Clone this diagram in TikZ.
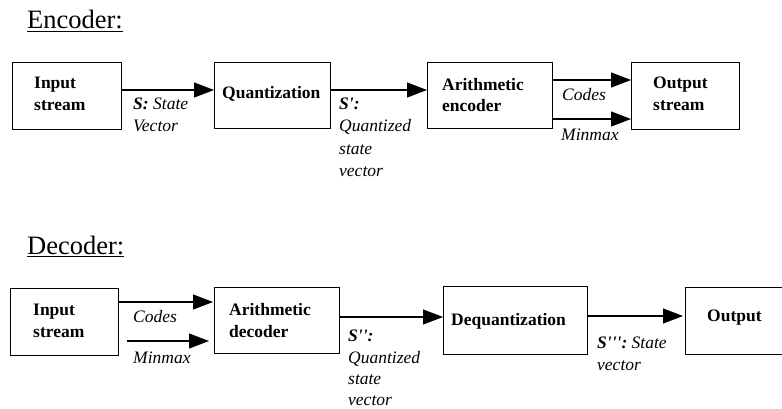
\documentclass[tikz,border=0pt]{standalone}
\usepackage{fontspec}
\setmainfont{Liberation Serif}
\usetikzlibrary{arrows.meta}
\begin{document}
\begin{tikzpicture}[x=1pt,y=-1pt,
  box/.style={draw, line width=1.2pt, inner sep=0pt, anchor=north west},
  bt/.style={font=\fontsize{17.5}{21}\selectfont\bfseries, anchor=base west, inner sep=0pt},
  lb/.style={font=\fontsize{17.5}{21}\selectfont\itshape, anchor=base west, inner sep=0pt},
  ttl/.style={font=\fontsize{26.5}{30}\selectfont, anchor=base west, inner sep=0pt},
  arr/.style={line width=1.2pt, -{Triangle[length=20pt,width=15pt]}}]
\useasboundingbox (0,0) rectangle (782,409);
% ---------- Encoder ----------
\node[ttl] (enc) at (27,29) {\underline{Encoder:}};
\node[box, minimum width=109pt, minimum height=67pt] (in1) at (12,62) {};
\node[box, minimum width=116pt, minimum height=66pt] (q) at (214,62) {};
\node[box, minimum width=125pt, minimum height=66pt] (ae) at (427,62) {};
\node[box, minimum width=108pt, minimum height=67pt] (os) at (631,62) {};
\node[bt] (in1a) at (34,89) {Input};
\node[bt] (in1b) at (34,111) {stream};
\node[bt] (qa) at (222,99) {Quantization};
\node[bt] (aea) at (442,91) {Arithmetic};
\node[bt] (aeb) at (442,112) {encoder};
\node[bt] (osa) at (653,89) {Output};
\node[bt] (osb) at (653,111) {stream};
\coordinate (e1) at (0,90);
\coordinate (e2) at (0,80);
\coordinate (e3) at (0,119);
\draw[arr] (in1.east |- e1) -- (q.west |- e1);
\draw[arr] (q.east |- e1) -- (ae.west |- e1);
\draw[arr] (ae.east |- e2) -- (os.west |- e2);
\draw[arr] (ae.east |- e3) -- (os.west |- e3);
\node[lb] (l1a) at (133,110) {\textbf{S:} State};
\node[lb] (l1b) at (133,132) {Vector};
\node[lb] (l2a) at (339,110) {\textbf{S\textquotesingle:}};
\node[lb] (l2b) at (339,132) {Quantized};
\node[lb] (l2c) at (339,154) {state};
\node[lb] (l2d) at (339,176) {vector};
\node[lb] (l3) at (562,101) {Codes};
\node[lb] (l4) at (561,141) {Minmax};
% ---------- Decoder ----------
\node[ttl] (dec) at (27,254) {\underline{Decoder:}};
\node[box, minimum width=108pt, minimum height=67pt] (in2) at (10,288) {};
\node[box, minimum width=125pt, minimum height=66pt] (ad) at (214,287) {};
\node[box, minimum width=144pt, minimum height=68pt] (dq) at (443,286) {};
\node[box, minimum width=120pt, minimum height=67pt] (out) at (685,287) {};
\node[bt] (in2a) at (33,315) {Input};
\node[bt] (in2b) at (33,337) {stream};
\node[bt] (ada) at (229,315) {Arithmetic};
\node[bt] (adb) at (229,337) {decoder};
\node[bt] (dqa) at (451,325) {Dequantization};
\node[bt] (outa) at (707,321) {Output};
\coordinate (d1) at (0,302);
\coordinate (m0) at (127,341);
\coordinate (d3) at (0,317);
\coordinate (d4) at (0,316);
\draw[arr] (in2.east |- d1) -- ([xshift=-1pt]ad.west |- d1);
\draw[arr] (m0) -- ([xshift=-5pt]ad.west |- m0);
\draw[arr] (ad.east |- d3) -- (dq.west |- d3);
\draw[arr] (dq.east |- d4) -- ([xshift=-2pt]out.west |- d4);
\node[lb] (l5) at (133,322) {Codes};
\node[lb] (l6) at (133,363) {Minmax};
\node[lb] (l7a) at (348,341) {\textbf{S\textquotesingle\textquotesingle:}};
\node[lb] (l7b) at (348,363) {Quantized};
\node[lb] (l7c) at (348,384) {state};
\node[lb] (l7d) at (348,405) {vector};
\node[lb] (l8a) at (597,348) {\textbf{S\textquotesingle\textquotesingle\textquotesingle:} State};
\node[lb] (l8b) at (597,370) {vector};
\end{tikzpicture}
\end{document}
